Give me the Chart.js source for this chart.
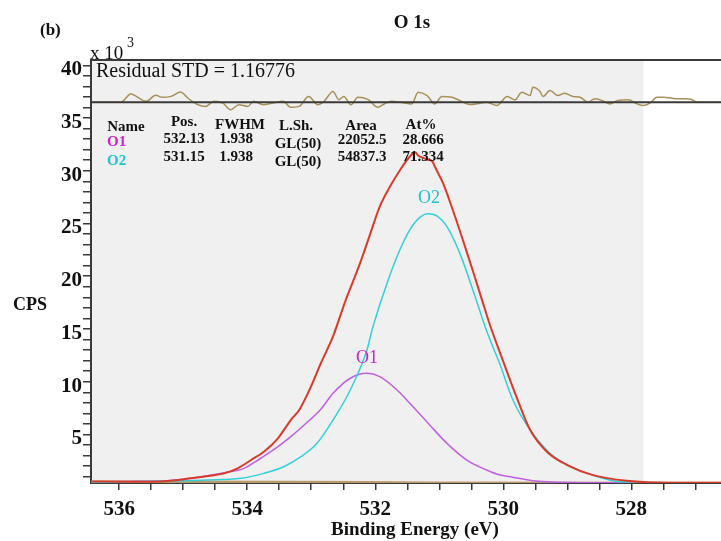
<!DOCTYPE html>
<html>
<head>
<meta charset="utf-8">
<title>O 1s</title>
<style>
  html, body { margin: 0; padding: 0; background: #fff; }
</style>
</head>
<body>
<canvas id="chart-o1s" width="721" height="541"></canvas>

<script src="https://cdn.jsdelivr.net/npm/chart.js@4"></script>
<script>
  // binding energy (eV) / counts (x10^3 CPS)
  const envEv = [536.44, 535.83, 535.36, 534.88, 534.61, 534.36, 534.15, 533.94, 533.74, 533.52,
    533.32, 533.18, 533.00, 532.85, 532.66, 532.47, 532.24, 532.08, 531.93, 531.77, 531.61, 531.46,
    531.38, 531.32, 531.26, 531.18, 531.11, 531.07, 530.94, 530.79, 530.63, 530.47, 530.32, 530.21,
    530.00, 529.79, 529.58, 529.32, 529.00, 528.60, 528.07, 527.44, 526.93, 526.60];
  const envCps = [1.55, 1.52, 1.55, 1.84, 2.06, 2.31, 2.79, 3.58, 4.37, 5.64,
    7.37, 8.4, 10.6, 12.75, 15.3, 18.6, 22.2, 25.0, 27.6, 29.5, 31.1, 32.35,
    32.75, 32.4, 32.25, 32.05, 31.9, 31.4, 29.8, 27.3, 24.4, 21.4, 18.5, 16.4,
    12.9, 9.5, 6.42, 4.37, 3.1, 2.15, 1.61, 1.42, 1.42, 1.42];

  const o1Ev = [536.44, 535.83, 535.24, 534.88, 534.36, 534.05, 533.83, 533.52, 533.32, 533.11,
    532.85, 532.66, 532.39, 532.13, 531.93, 531.66, 531.41, 531.15, 530.88, 530.57, 530.26,
    530.05, 529.89, 529.54, 529.00, 528.18, 526.60];
  const o1Cps = [1.52, 1.55, 1.61, 1.84, 2.37, 2.79, 3.58, 4.84, 5.79, 6.9,
    8.4, 9.9, 11.33, 11.8, 11.48, 10.22, 8.63, 6.9, 5.16, 3.58, 2.63,
    2.15, 1.99, 1.61, 1.45, 1.42, 1.40];

  const o2Ev = [536.44, 534.61, 534.10, 533.74, 533.43, 533.16, 532.91, 532.66, 532.39, 532.13,
    532.05, 531.88, 531.66, 531.46, 531.30, 531.18, 531.04, 530.88, 530.68, 530.47, 530.26,
    530.05, 529.85, 529.58, 529.27, 529.00, 528.60, 528.18, 526.60];
  const o2Cps = [1.45, 1.68, 1.84, 2.31, 2.94, 3.89, 5.16, 7.37, 10.22, 14.0,
    15.9, 19.2, 22.87, 25.4, 26.6, 26.92, 26.73, 25.71, 23.19, 19.6, 15.8,
    12.6, 9.27, 6.42, 4.21, 3.1, 2.15, 1.52, 1.40];

  const bgEv = [536.44, 533.33, 532.08, 531.15, 526.60];
  const bgCps = [1.5, 1.48, 1.45, 1.40, 1.38];

  // residual, as offset from its zero line (x10^3)
  const resEv = [536.44, 535.97, 535.82, 535.58, 535.43, 535.32, 535.19, 535.04, 534.93, 534.77,
    534.65, 534.52, 534.38, 534.26, 534.13, 533.99, 533.90, 533.75, 533.60, 533.44, 533.32,
    533.19, 533.04, 532.90, 532.80, 532.66, 532.57, 532.49, 532.38, 532.27, 532.11, 531.96,
    531.86, 531.75, 531.61, 531.43, 531.33, 531.19, 531.07, 530.96, 530.80, 530.68, 530.52,
    530.36, 530.26, 530.10, 529.94, 529.82, 529.71, 529.58, 529.54, 529.43, 529.38, 529.27,
    529.15, 529.04, 528.91, 528.80, 528.68, 528.57, 528.46, 528.33, 528.21, 528.05, 527.91,
    527.82, 527.71, 527.60, 527.50, 527.40, 527.29, 527.08, 526.97, 526.60];
  const resVal = [0, 0, 0.78, 0.08, 0.65, 0.46, 0.55, 0.97, 0.40, -0.24,
    -0.40, 0.08, -0.08, -0.71, -0.24, -0.40, 0.08, -0.24, -0.08, 0.08, -0.49,
    -0.40, 0.55, -0.24, 0.08, 1.02, 0.24, 0.55, -0.24, 0.46, 0.24, -0.49,
    -0.17, 0.08, 0, -0.16, 0.95, 0.63, -0.16, 0.54, 0.47, 0.16, -0.22,
    -0.09, 0, -0.32, 0.54, 0.22, 0.95, 0.63, 1.42, 1.04, 0.54, 1.11,
    0.63, 0.85, 0.54, 0.47, 0, 0.32, 0.16, -0.16, 0.16, 0.22, -0.16,
    -0.32, -0.09, 0.47, 0.47, 0.41, 0.32, 0.3, 0, 0];

  const xMin = 526.60, xMax = 536.44;
  const yMin = 1.4, yMax = 41.5;
  const resBase = 37.5;
  const grayEnd = 527.81;

  const pts = (xs, ys) => xs.map((x, i) => ({ x, y: ys[i] }));
  const serif = '"Liberation Serif", "Times New Roman", serif';

  const line = (label, data, color, width, order, extra) => ({
    label, data, borderColor: color, borderWidth: width, pointRadius: 0,
    cubicInterpolationMode: 'monotone', fill: false, order, ...extra,
  });

  const decor = {
    id: 'decor',
    beforeDraw(chart) {
      const { ctx, chartArea: a, scales } = chart;
      ctx.save();
      ctx.fillStyle = '#f0f0f0';
      ctx.fillRect(a.left, a.top, scales.x.getPixelForValue(grayEnd) - a.left, a.bottom - a.top);
      ctx.restore();
    },
    afterDraw(chart) {
      const { ctx, chartArea: a } = chart;
      ctx.save();
      ctx.strokeStyle = '#3a3a3a';
      ctx.lineWidth = 2;
      ctx.beginPath();
      ctx.moveTo(a.left, a.top);
      ctx.lineTo(chart.width, a.top);
      ctx.stroke();

      const text = (s, x, y, font, color = '#111', align = 'center') => {
        ctx.font = font;
        ctx.fillStyle = color;
        ctx.textAlign = align;
        ctx.textBaseline = 'middle';
        ctx.fillText(s, x, y);
      };
      text('(b)', 40, 31, `bold 17px ${serif}`, '#111', 'left');
      text('O 1s', 412, 23, `bold 19px ${serif}`);
      text('x 10', 90, 54, `19px ${serif}`, '#111', 'left');
      text('3', 127, 43, `14px ${serif}`, '#111', 'left');
      text('Residual STD = 1.16776', 96, 72, `20px ${serif}`, '#111', 'left');
      text('CPS', 30, 305, `bold 18px ${serif}`);
      text('Binding Energy (eV)', 415, 530, `bold 19px ${serif}`);

      const tb = `bold 15px ${serif}`;
      text('Name', 126, 127, tb);
      text('Pos.', 184, 122, tb);
      text('FWHM', 240, 125, tb);
      text('L.Sh.', 296, 126, tb);
      text('Area', 361, 126, tb);
      text('At%', 421, 125, tb);
      text('O1', 107, 142, tb, '#cc22cc', 'left');
      text('532.13', 184, 139, tb);
      text('1.938', 236, 139, tb);
      text('GL(50)', 298, 144, tb);
      text('22052.5', 362, 140, tb);
      text('28.666', 423, 140, tb);
      text('O2', 107, 161, tb, '#22c4cc', 'left');
      text('531.15', 184, 157, tb);
      text('1.938', 236, 157, tb);
      text('GL(50)', 298, 162, tb);
      text('54837.3', 362, 157, tb);
      text('71.334', 423, 157, tb);

      text('O1', 367, 358, `18px ${serif}`, '#cc22cc');
      text('O2', 429, 198, `18px ${serif}`, '#22c0c8');
      ctx.restore();
    },
  };

  new Chart(document.getElementById('chart-o1s'), {
    type: 'line',
    data: {
      datasets: [
        line('Envelope', pts(envEv, envCps), '#d93b2b', 2, 1),
        line('O2', pts(o2Ev, o2Cps), '#33d0d8', 1.5, 2),
        line('O1', pts(o1Ev, o1Cps), '#c060e0', 1.5, 3),
        line('Background', pts(bgEv, bgCps), '#b89a6a', 3, 4),
        line('Residual zero', pts([xMin, xMax], [0, 0]), '#3a3a3a', 2, 5, { yAxisID: 'yRes' }),
        line('Residual', pts(resEv, resVal), '#a8905a', 1.5, 6, { yAxisID: 'yRes' }),
      ],
    },
    options: {
      responsive: false,
      animation: false,
      devicePixelRatio: 1,
      layout: { padding: { top: 60, right: 0, left: 0, bottom: 0 } },
      plugins: { legend: { display: false }, tooltip: { enabled: false } },
      scales: {
        x: {
          type: 'linear',
          reverse: true,
          min: xMin,
          max: xMax,
          afterFit(scale) { scale.height = 58; },
          border: { color: '#3a3a3a', width: 2 },
          grid: { drawOnChartArea: false, tickLength: 7, color: '#3a3a3a', lineWidth: 1.5 },
          ticks: {
            stepSize: 0.5,
            includeBounds: false,
            autoSkip: false,
            maxRotation: 0,
            padding: 7,
            color: '#111',
            font: { family: serif, size: 21, weight: 'bold' },
            callback: (v) => (Math.abs(v % 2) < 1e-6 ? String(Math.round(v)) : ''),
          },
        },
        y: {
          min: yMin,
          max: yMax,
          afterFit(scale) { scale.width = 91; },
          border: { color: '#3a3a3a', width: 2 },
          grid: { drawOnChartArea: false, tickLength: 8, color: '#3a3a3a', lineWidth: 1.5 },
          ticks: {
            stepSize: 1,
            includeBounds: false,
            autoSkip: false,
            padding: 1,
            labelOffset: -6,
            color: '#111',
            font: { family: serif, size: 21, weight: 'bold' },
            callback: (v) => (v % 5 === 0 && v >= 5 && v <= 40 ? String(v) : ''),
          },
        },
        yRes: { display: false, min: yMin - resBase, max: yMax - resBase },
      },
    },
    plugins: [decor],
  });
</script>
</body>
</html>
